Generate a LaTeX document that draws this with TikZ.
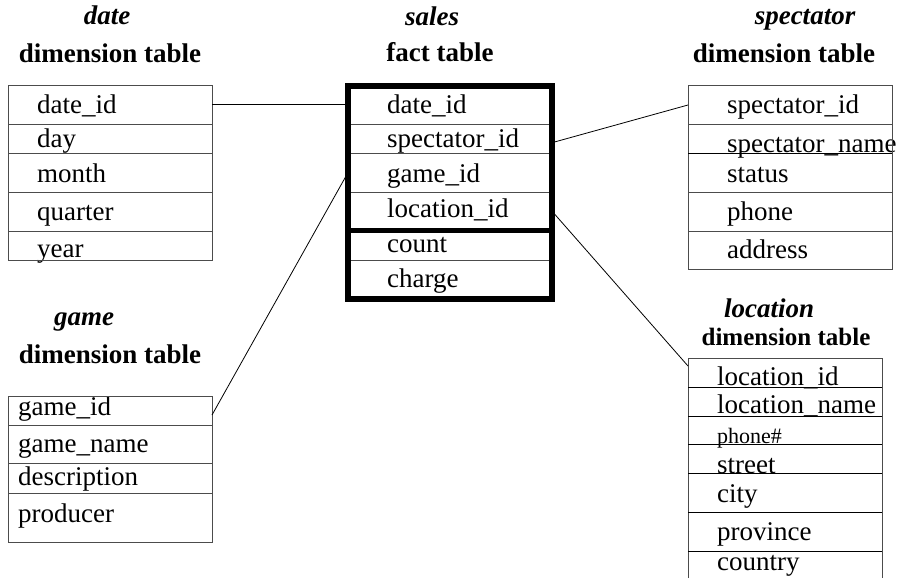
\documentclass[tikz,border=0pt]{standalone}
\usepackage{fontspec}
\setmainfont{Liberation Serif}
\begin{document}
\begin{tikzpicture}[x=1pt,y=-1pt,
  txt/.style={anchor=base west,inner sep=0pt,font=\fontsize{27}{30}\selectfont},
  smalltxt/.style={anchor=base west,inner sep=0pt,font=\fontsize{22}{24}\selectfont},
  hdr/.style={anchor=base,inner sep=0pt,font=\fontsize{27}{30}\selectfont\bfseries},
  ihdr/.style={anchor=base,inner sep=0pt,font=\fontsize{27}{30}\selectfont\bfseries\itshape},
  tline/.style={draw=black!70,line width=1pt},
  conn/.style={draw=black,line width=0.8pt},
  fact/.style={draw=black,line width=6pt},
  factsep/.style={draw=black,line width=5pt}]
\useasboundingbox (0,0) rectangle (899,578);
% ---------- date ----------
\node[ihdr] (dateh1) at (107,25) {date};
\node[hdr] (dateh2) at (110,63) {dimension table};
\node[txt] (d1) at (37,113) {date\_id};
\node[txt] (d2) at (37,147) {day};
\node[txt] (d3) at (37,182) {month};
\node[txt] (d4) at (37,220) {quarter};
\node[txt] (d5) at (37,257) {year};
\draw[tline] (8,85) rectangle (212,260);
\foreach \y in {124,153,192,231} \draw[tline] (8,\y) -- (212,\y);
% ---------- sales ----------
\node[ihdr] (salesh1) at (432,26) {sales};
\node[hdr] (salesh2) at (440,62) {fact table};
\node[txt] (s1) at (387,113) {date\_id};
\node[txt] (s2) at (387,147) {spectator\_id};
\node[txt] (s3) at (387,182) {game\_id};
\node[txt] (s4) at (387,217) {location\_id};
\node[txt] (s5) at (387,252) {count};
\node[txt] (s6) at (387,287) {charge};
\foreach \y in {124,153,192,260} \draw[tline] (348,\y) -- (551.5,\y);
\draw[factsep] (348,230.5) -- (551.5,230.5);
\draw[fact] (348,85.5) rectangle (551.5,299);
% ---------- spectator ----------
\node[ihdr] (spech1) at (805,25) {spectator};
\node[hdr] (spech2) at (784,63) {dimension table};
\node[txt] (p1) at (727,113) {spectator\_id};
\node[txt] (p2) at (727,152) {spectator\_name};
\node[txt] (p3) at (727,182) {status};
\node[txt] (p4) at (727,220) {phone};
\node[txt] (p5) at (727,258) {address};
\draw[tline] (688,85) rectangle (892,269);
\foreach \y in {124,192,231} \draw[tline] (688,\y) -- (892,\y);
\draw[draw=black,line width=1pt] (688,153) -- (892,153);
% ---------- game ----------
\node[ihdr] (gameh1) at (84,325) {game};
\node[hdr] (gameh2) at (110,363) {dimension table};
\node[txt] (g1) at (18,415) {game\_id};
\node[txt] (g2) at (18,452) {game\_name};
\node[txt] (g3) at (18,485) {description};
\node[txt] (g4) at (18,522) {producer};
\draw[tline] (8,396) rectangle (212,542);
\foreach \y in {425,463,493} \draw[tline] (8,\y) -- (212,\y);
% ---------- location ----------
\node[ihdr] (loch1) at (769,317) {location};
\node[hdr,font=\fontsize{25}{28}\selectfont\bfseries] (loch2) at (786,345) {dimension table};
\node[txt] (l1) at (717,385) {location\_id};
\node[txt] (l2) at (717,413) {location\_name};
\node[smalltxt] (l3) at (717,443) {phone\#};
\node[txt] (l4) at (717,473) {street};
\node[txt] (l5) at (717,502) {city};
\node[txt] (l6) at (717,540) {province};
\node[txt] (l7) at (717,570) {country};
\draw[tline] (688,578) -- (688,358) -- (882,358) -- (882,578);
\foreach \y in {387,416,444,473,512,551} \draw[draw=black,line width=1pt] (688,\y) -- (882,\y);
% ---------- connectors ----------
\coordinate (dateR) at (212,104.5);
\coordinate (salesL1) at (345,104.5);
\coordinate (salesR2) at (554.5,142);
\coordinate (specL) at (688,105);
\coordinate (salesL3) at (345.5,177);
\coordinate (gameR) at (212,415);
\coordinate (salesR4) at (554.5,214);
\coordinate (locL) at (688,366);
\draw[conn] (dateR) -- (salesL1);
\draw[conn] (salesR2) -- (specL);
\draw[conn] (salesL3) -- (gameR);
\draw[conn] (salesR4) -- (locL);
\end{tikzpicture}
\end{document}
